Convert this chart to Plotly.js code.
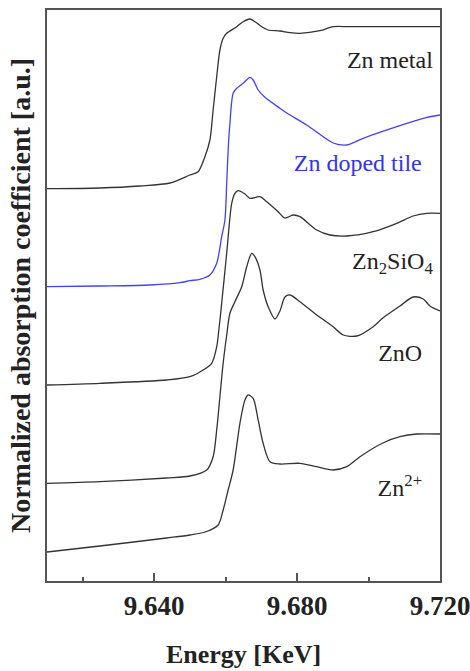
<!DOCTYPE html>
<html>
<head>
<meta charset="utf-8">
<script src="https://cdn.plot.ly/plotly-3.0.1.min.js"></script>
<style>html,body{margin:0;padding:0;background:#fff;}#chart{width:470px;height:671px;}</style>
</head>
<body>
<div id="chart"></div>
<script>
// Energy (keV) and normalized absorption (a.u., offset per sample)
const znMetalE = [9.6100,9.6248,9.6360,9.6444,9.6500,9.6523,9.6542,9.6556,9.6565,9.6575,9.6584,9.6593,9.6603,9.6631,9.6649,9.6668,9.6682,9.6701,9.6719,9.6752,9.6780,9.6808,9.6864,9.6901,9.6948,9.7200];
const znMetalY = [39.23,39.30,39.50,39.80,40.60,40.93,42.43,44.10,47.10,50.43,53.10,54.27,54.77,55.43,55.93,56.20,55.93,55.43,55.10,55.00,54.83,54.77,55.03,55.43,55.43,55.43];

const tileE = [9.6100,9.6248,9.6388,9.6472,9.6500,9.6528,9.6556,9.6575,9.6589,9.6598,9.6603,9.6607,9.6612,9.6621,9.6631,9.6649,9.6668,9.6677,9.6691,9.6710,9.6752,9.6771,9.6827,9.6901,9.6939,9.6985,9.7079,9.7153,9.7200];
const tileY = [29.43,29.50,29.60,29.83,30.03,30.17,30.60,31.77,34.43,36.10,39.77,43.10,45.77,48.77,49.27,49.77,50.37,50.10,49.10,48.37,47.27,46.80,45.60,43.80,43.60,44.27,45.43,46.27,46.60];

const silicateE = [9.6100,9.6248,9.6435,9.6500,9.6537,9.6561,9.6575,9.6581,9.6589,9.6603,9.6617,9.6626,9.6635,9.6654,9.6668,9.6696,9.6715,9.6747,9.6766,9.6789,9.6808,9.6855,9.6892,9.6939,9.7013,9.7079,9.7125,9.7163,9.7200];
const silicateY = [19.60,19.77,20.10,20.43,21.10,21.77,23.43,25.10,27.80,32.80,37.77,38.77,39.03,38.70,38.27,38.43,37.93,36.93,36.30,36.60,36.43,35.10,34.60,34.50,34.93,35.77,36.50,36.77,36.77];

const znoE = [9.6100,9.6248,9.6435,9.6500,9.6547,9.6565,9.6575,9.6584,9.6593,9.6603,9.6612,9.6626,9.6645,9.6659,9.6673,9.6682,9.6696,9.6705,9.6719,9.6738,9.6752,9.6766,9.6780,9.6808,9.6855,9.6901,9.6929,9.6967,9.7013,9.7040,9.7088,9.7125,9.7153,9.7172,9.7200];
const znoY = [9.77,9.93,10.30,10.50,11.10,12.43,15.10,18.43,21.77,24.60,26.77,27.93,29.43,31.43,32.77,32.43,31.10,29.10,27.43,26.20,27.00,28.40,28.60,27.93,26.60,25.43,24.60,24.50,25.43,26.30,27.50,28.40,28.20,27.50,27.00];

const zn2E = [9.6100,9.6248,9.6435,9.6500,9.6547,9.6579,9.6593,9.6607,9.6621,9.6640,9.6654,9.6663,9.6677,9.6691,9.6705,9.6724,9.6752,9.6808,9.6855,9.6901,9.6939,9.6976,9.7040,9.7088,9.7135,9.7200];
const zn2Y = [2.90,3.50,4.30,4.60,4.95,5.60,7.10,9.10,11.10,15.77,18.10,18.60,18.27,16.10,13.77,11.93,11.70,11.77,11.43,11.10,11.43,12.43,13.80,14.43,14.70,14.70];

const labels = ['Zn metal','Zn doped tile','Zn<sub>2</sub>SiO<sub>4</sub>','ZnO','Zn<sup>2+</sup>'];
const labelE = [9.7180,9.7149,9.7180,9.7150,9.7150];
const labelY = [51.9,41.6,31.8,22.6,9.1];
const labelColors = ['#222','#3333ee','#222','#222','#222'];

const tickVals = [9.640,9.680,9.720];
const tickText = ['9.640','9.680','9.720'];
const minorTickVals = [9.620,9.660,9.700];

const series = [
  [znMetalE, znMetalY, '#333'],
  [tileE, tileY, '#4040ff'],
  [silicateE, silicateY, '#333'],
  [znoE, znoY, '#333'],
  [zn2E, zn2Y, '#333']
];

const traces = series.map(s => ({
  x: s[0], y: s[1], type: 'scatter', mode: 'lines',
  line: {color: s[2], width: 1.3, shape: 'spline', smoothing: 0.8},
  hoverinfo: 'skip', showlegend: false
}));

const FAMILY = 'Liberation Serif';

traces.push({
  x: labelE, y: labelY, text: labels, type: 'scatter', mode: 'text',
  textposition: 'middle left', cliponaxis: false,
  textfont: {family: FAMILY, size: 24, color: labelColors},
  hoverinfo: 'skip', showlegend: false
});

const layout = {
  width: 470, height: 671,
  margin: {l: 47, r: 30, t: 10, b: 90},
  paper_bgcolor: '#fff', plot_bgcolor: '#fff',
  showlegend: false,
  xaxis: {
    range: [9.610, 9.720], tickvals: tickVals, ticktext: tickText,
    ticks: 'inside', ticklen: 8, tickwidth: 1.5, tickcolor: '#555',
    minor: {tickvals: minorTickVals, ticks: 'inside', ticklen: 4, tickwidth: 1.5, tickcolor: '#555', showgrid: false},
    showline: true, linecolor: '#555', linewidth: 2, mirror: true,
    showgrid: false, zeroline: false, ticklabeloverflow: 'allow',
    tickfont: {family: FAMILY, size: 27, color: '#222', weight: 'bold'},
    title: {text: 'Energy [KeV]', font: {family: FAMILY, size: 26, color: '#222', weight: 'bold'}, standoff: 24}
  },
  yaxis: {
    range: [0, 57.1], showticklabels: false, ticks: '',
    showline: true, linecolor: '#555', linewidth: 2, mirror: true,
    showgrid: false, zeroline: false,
    title: {text: 'Normalized absorption coefficient [a.u.]', font: {family: FAMILY, size: 28, color: '#222', weight: 'bold'}, standoff: 6}
  }
};

Plotly.newPlot('chart', traces, layout, {displayModeBar: false});
</script>
</body>
</html>
